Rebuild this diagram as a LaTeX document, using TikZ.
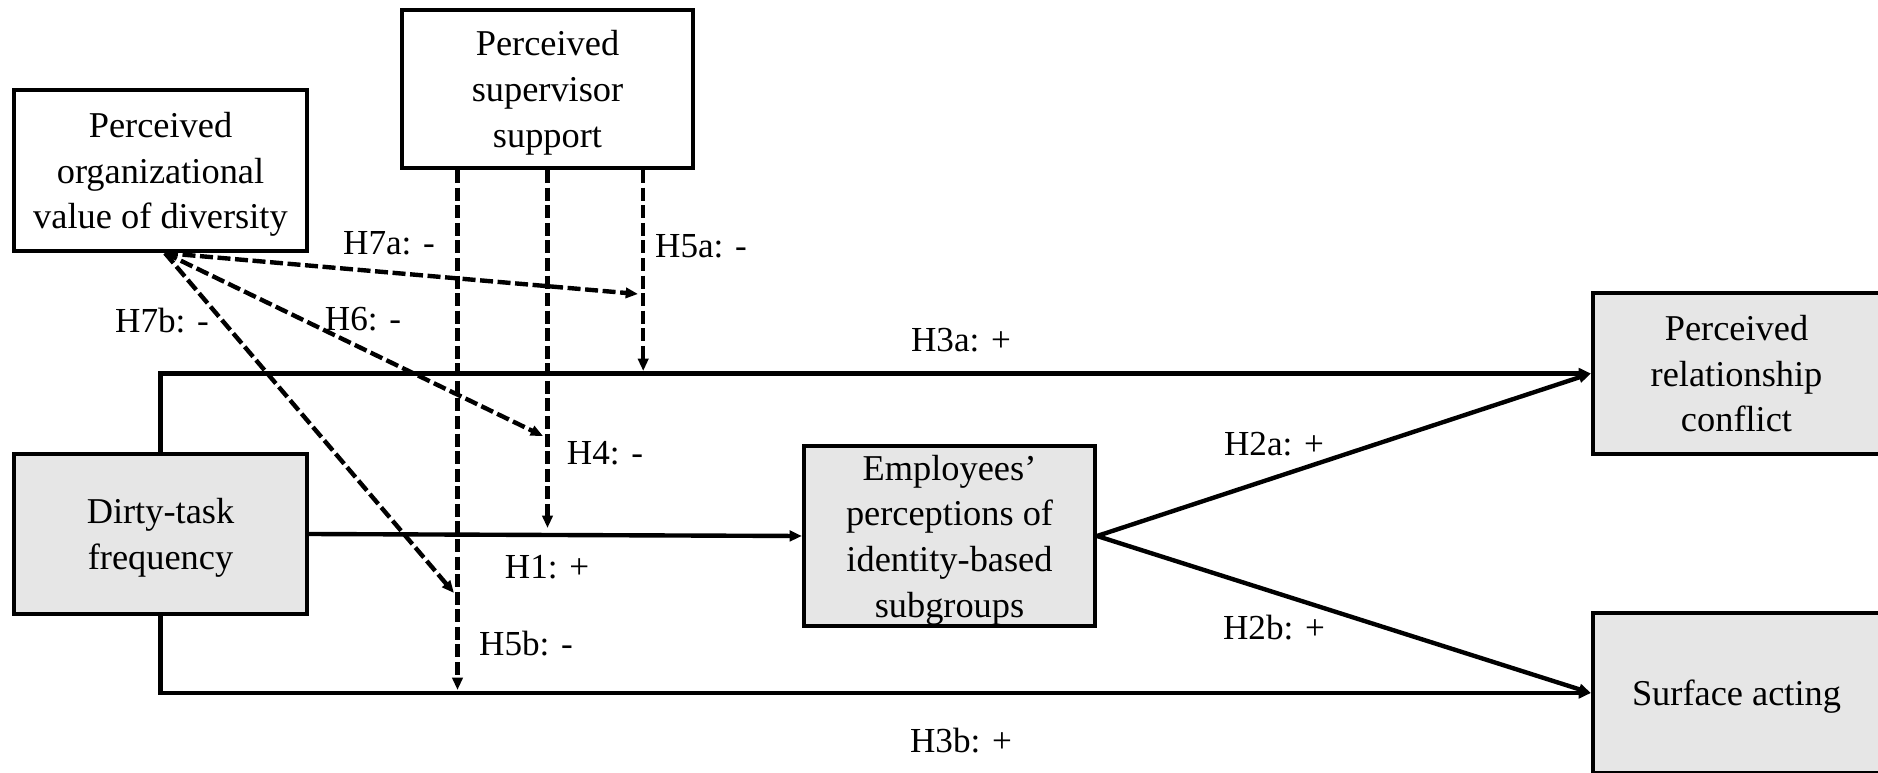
\documentclass[tikz,border=0pt]{standalone}
\usepackage{fontspec}
\setmainfont{Liberation Serif}
\usetikzlibrary{arrows.meta,calc}
\definecolor{boxgray}{RGB}{230,230,230}

\begin{document}
\begin{tikzpicture}[x=0.02cm,y=-0.02cm,
  box/.style={draw=black, line width=2.4pt, align=center, inner sep=0pt,
    text depth=0pt, font=\fontsize{20.7}{26}\selectfont},
  shaded/.style={box, fill=boxgray},
  effect/.style={line width=2.5pt, -{Triangle[length=7pt,width=6pt]}},
  moder/.style={line width=2.5pt, dash pattern=on 7.4pt off 2.6pt,
    -{Triangle[length=7pt,width=5.8pt]}},
  lab/.style={font=\fontsize{20}{24}\selectfont, inner sep=0pt}]

\useasboundingbox (0,0) rectangle (1878,773);

% constructs
\node[box, minimum width=5.86cm, minimum height=3.22cm] (org) at (160.5,170.5)
  {Perceived\\organizational\\value of diversity};
\node[box, minimum width=5.82cm, minimum height=3.16cm] (sup) at (547.5,89)
  {Perceived\\supervisor\\support};
\node[shaded, minimum width=5.86cm, minimum height=3.2cm] (dirty) at (160.5,534)
  {Dirty-task\\frequency};
\node[shaded, minimum width=5.82cm, minimum height=3.6cm] (emp) at (949.5,536)
  {Employees’\\perceptions of\\identity-based\\subgroups};
\node[shaded, minimum width=5.74cm, minimum height=3.22cm] (rel) at (1736.5,373.5)
  {Perceived\\relationship\\conflict};
\node[shaded, minimum width=5.74cm, minimum height=3.2cm] (surf) at (1736.5,693)
  {Surface acting};

% direct effects
\draw[effect] (dirty.north) |- (rel.west);
\draw[effect] (dirty.south) |- (surf.west);
\draw[effect] (dirty.east) -- (emp.west);
\draw[effect] (emp.east) -- (rel.west);
\draw[effect] (emp.east) -- (surf.west);

% moderation by supervisor support
\coordinate (t5a) at (643.2,371);
\coordinate (t4) at (547.5,528);
\coordinate (t5b) at (457.5,690);
\draw[moder] (sup.south -| t5a) -- (t5a);
\draw[moder] (sup.south) -- (t4);
\draw[moder] (sup.south -| t5b) -- (t5b);

% moderation by organizational value of diversity
\coordinate (t7a) at (638,294);
\coordinate (t6) at (543,436);
\coordinate (t7b) at (454,593);
\draw[moder] ([xshift=0.09cm]org.south) -- (t7a);
\draw[moder] ([xshift=0.09cm]org.south) -- (t6);
\draw[moder] ([xshift=0.09cm]org.south) -- (t7b);

% hypothesis labels
\node[lab] (l7a) at (389,243) {H7a: -};
\node[lab] (l5a) at (701,246) {H5a: -};
\node[lab] (l7b) at (162,321) {H7b: -};
\node[lab] (l6)  at (363,319) {H6: -};
\node[lab] (l3a) at (961,340) {H3a: +};
\node[lab] (l4)  at (605,453) {H4: -};
\node[lab] (l1)  at (547,567) {H1: +};
\node[lab] (l5b) at (526,644) {H5b: -};
\node[lab] (l2a) at (1274,444) {H2a: +};
\node[lab] (l2b) at (1274,628) {H2b: +};
\node[lab] (l3b) at (961,741) {H3b: +};
\end{tikzpicture}
\end{document}
